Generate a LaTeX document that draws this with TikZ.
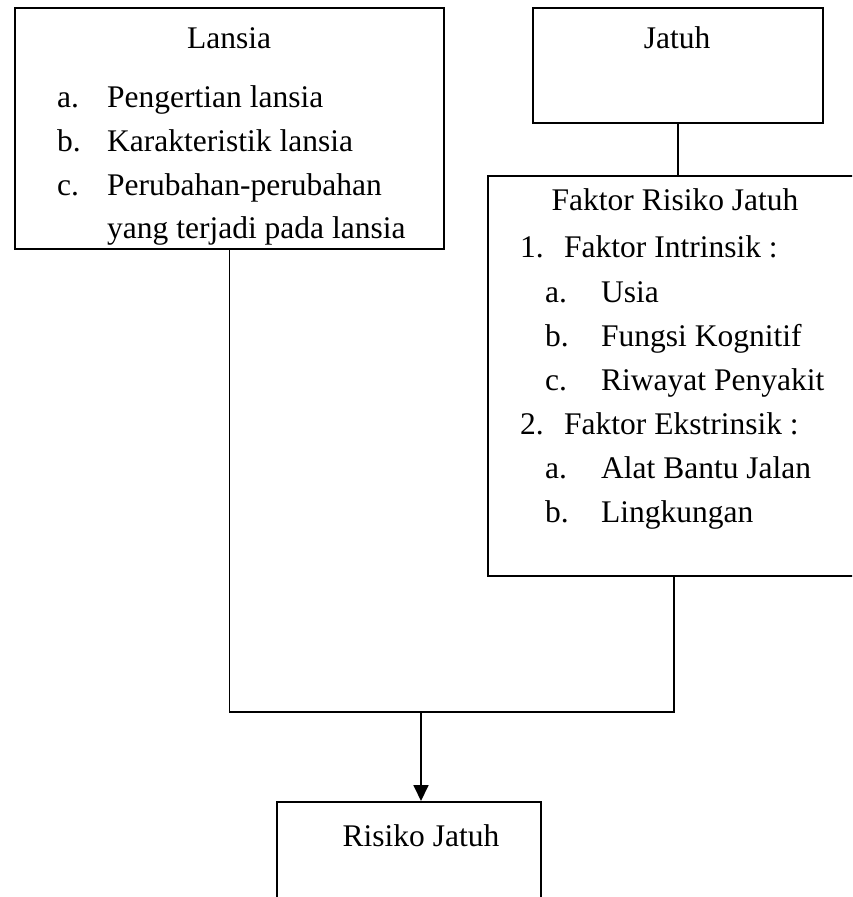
\documentclass[tikz,border=0pt]{standalone}
\usepackage{fontspec}
\setmainfont{Liberation Serif}
\usetikzlibrary{arrows.meta}
\begin{document}
\begin{tikzpicture}[x=1pt,y=-1pt,
    kotak/.style={draw,line width=1.8pt,anchor=north west,inner sep=0pt},
    isi/.style={anchor=base west,inner sep=0pt,font=\fontsize{31.5}{38}\selectfont},
    judul/.style={anchor=base,inner sep=0pt,font=\fontsize{31.5}{38}\selectfont},
    garis/.style={line width=1.8pt}]
  \useasboundingbox (0,0) rectangle (852,897);
  \clip (0,0) rectangle (852,897);
  % kotak-kotak
  \node[kotak,minimum width=429pt,minimum height=241pt] (lansia) at (14,7) {};
  \node[kotak,minimum width=290pt,minimum height=115pt] (jatuh) at (532,7) {};
  \node[kotak,minimum width=372pt,minimum height=400pt] (faktor) at (487,175) {};
  \node[kotak,minimum width=264pt,minimum height=130pt] (risiko) at (276,801) {};
  % teks Lansia
  \node[judul] (tLansia) at (229,48) {Lansia};
  \node[isi] (la) at (57,107) {a.};
  \node[isi] (laT) at (107,107) {Pengertian lansia};
  \node[isi] (lb) at (57,151) {b.};
  \node[isi] (lbT) at (107,151) {Karakteristik lansia};
  \node[isi] (lc) at (57,195) {c.};
  \node[isi] (lcT) at (107,195) {Perubahan-perubahan};
  \node[isi] (lcT2) at (107,238) {yang terjadi pada lansia};
  % teks Jatuh
  \node[judul] (tJatuh) at (677,48) {Jatuh};
  % teks Faktor Risiko Jatuh
  \node[judul] (tFaktor) at (675,210) {Faktor Risiko Jatuh};
  \node[isi] (f1) at (520,257) {1.};
  \node[isi] (f1T) at (564,257) {Faktor Intrinsik :};
  \node[isi] (f1a) at (545,302) {a.};
  \node[isi] (f1aT) at (601,302) {Usia};
  \node[isi] (f1b) at (545,346) {b.};
  \node[isi] (f1bT) at (601,346) {Fungsi Kognitif};
  \node[isi] (f1c) at (545,390) {c.};
  \node[isi] (f1cT) at (601,390) {Riwayat Penyakit};
  \node[isi] (f2) at (520,434) {2.};
  \node[isi] (f2T) at (564,434) {Faktor Ekstrinsik :};
  \node[isi] (f2a) at (545,478) {a.};
  \node[isi] (f2aT) at (601,478) {Alat Bantu Jalan};
  \node[isi] (f2b) at (545,522) {b.};
  \node[isi] (f2bT) at (601,522) {Lingkungan};
  % teks Risiko Jatuh
  \node[judul] (tRisiko) at (421,846) {Risiko Jatuh};
  % garis penghubung
  \coordinate (gabung) at (421,712);
  \draw[garis] (jatuh.south) -- (jatuh.south |- faktor.north);
  \draw[garis] (lansia.south) -- (lansia.south |- gabung) -- (faktor.south |- gabung) -- (faktor.south);
  \draw[garis,-{Triangle[length=16pt,width=15pt]}] (gabung) -- (gabung |- risiko.north);
\end{tikzpicture}
\end{document}
